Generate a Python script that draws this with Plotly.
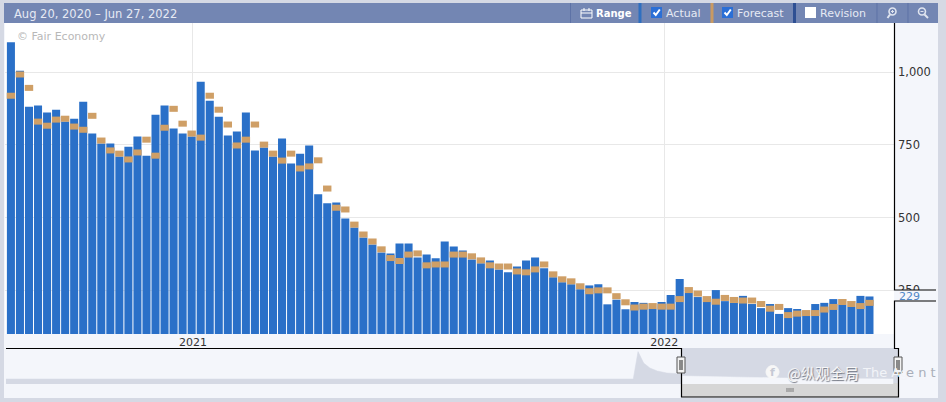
import pandas as pd
import plotly.graph_objects as go

W, H = 946, 402

actual = [1103, 1005, 881, 885, 861, 871, 830, 840, 898, 789, 755, 755, 710, 744, 779, 713,
          854, 885, 806, 789, 779, 967, 902, 847, 782, 796, 861, 731, 741, 710, 772, 686,
          720, 748, 580, 549, 552, 497, 466, 432, 408, 380, 377, 411, 411, 363, 373, 360,
          418, 401, 387, 356, 343, 353, 322, 312, 332, 353, 363, 326, 295, 278, 271, 254,
          267, 271, 202, 218, 185, 210, 207, 186, 210, 234, 289, 241, 227, 210, 251, 213,
          207, 231, 203, 189, 203, 169, 189, 186, 162, 203, 207, 220, 200, 193, 231, 229]
forecast = [919, 992, 946, 830, 816, 837, 840, 813, 802, 850, 765, 731, 720, 700, 724, 768,
            713, 809, 874, 823, 789, 775, 919, 871, 820, 748, 768, 820, 751, 720, 696, 720,
            669, 676, 697, 600, 534, 528, 476, 442, 418, 391, 361, 351, 373, 377, 336, 339,
            339, 373, 373, 367, 353, 336, 332, 332, 315, 312, 322, 339, 305, 288, 281, 264,
            247, 250, 250, 230, 209, 191, 194, 196, 194, 194, 220, 251, 239, 220, 211, 224,
            217, 215, 215, 203, 187, 193, 165, 170, 172, 172, 184, 193, 210, 203, 196, 207]
dates = pd.date_range("2020-08-13", periods=len(actual), freq="7D")

x_range = ["2020-08-08 10:00", "2022-06-28"]
y_range = [100, 1169]
y_ticks = [250, 500, 750, 1000]
x_ticks = ["2021-01-01", "2022-01-01"]
x_labels = ["2021", "2022"]
latest_label = 229
range_text = "Aug 20, 2020 – Jun 27, 2022"

nav_range = ["2014-04-15", "2022-07-11"]
nav_y_range = [-1040, 7888]
nav_hist_dates = ["2014-04-15", "2017-01-01", "2020-01-30", "2020-02-15", "2020-03-05", "2020-03-26",
                  "2020-04-20", "2020-05-22", "2020-07-13"]
nav_hist_vals = [200, 200, 200, 7000, 4168, 2928, 2184, 1688, 1440]
nav_sel_dates = ["2020-07-13", "2020-11-17", "2021-06-10", "2021-11-25", "2022-06-25"]
nav_sel_vals = [944, 700, 450, 300, 200]

FRAME = "#d5d9e4"
INNER = "#f4f6fb"
HEAD = "#7386b3"
BAR = "#2a70c8"
FC = "#cf9f66"
FONT = "DejaVu Sans"


def px(x):
    return x / W


def py(y):
    return 1 - y / H


shapes = []


def rect(x0, y0, x1, y1, fill, layer="above", line=None, lw=0):
    shapes.append(dict(type="rect", xref="paper", yref="paper", x0=px(x0), x1=px(x1), y0=py(y0), y1=py(y1),
                       fillcolor=fill, layer=layer, line=dict(color=line or fill, width=lw)))


def poly(points, color="#000000", width=1.2, close=False, fill=None):
    d = "M" + " L".join(f"{px(a):.5f},{py(b):.5f}" for a, b in points) + (" Z" if close else "")
    shapes.append(dict(type="path", xref="paper", yref="paper", path=d, layer="above",
                       line=dict(color=color, width=width), fillcolor=fill))


def circle(x0, y0, x1, y1, color, width=1.5, fill=None):
    shapes.append(dict(type="circle", xref="paper", yref="paper", x0=px(x0), x1=px(x1), y0=py(y0), y1=py(y1),
                       layer="above", line=dict(color=color, width=width), fillcolor=fill))


notes = []


def note(x, y, text, color="#333333", size=11, anchor="left", family=FONT, shadow=None):
    f = dict(family=family, size=size, color=color)
    if shadow:
        f["shadow"] = shadow
    notes.append(dict(xref="paper", yref="paper", x=px(x), y=py(y), text=text, showarrow=False,
                      xanchor=anchor, yanchor="middle", borderpad=0, font=f))


# backgrounds beneath the traces
rect(5, 23, 894, 334, "#ffffff", layer="below")
rect(682, 348, 898, 383, FRAME, layer="below")
rect(682, 383, 898, 397, "#d6d6d6", layer="below")

# page frame
rect(0, 0, W, 3, FRAME)
rect(0, 0, 4, H, FRAME)
rect(938, 0, W, H, FRAME)
rect(0, 398, W, H, FRAME)
rect(4, 3, 938, 23, HEAD)

# toolbar separators
for xs, col, wd in [(570.5, "#5d72a6", 1), (640, "#2f6fc0", 3), (712, "#c99a63", 3), (794.5, "#2e4f93", 3),
                    (877, "#5d72a6", 1), (908, "#5d72a6", 1)]:
    poly([(xs, 3), (xs, 23)], col, wd)

# calendar icon
poly([(581, 10), (592, 10), (592, 18), (581, 18)], "#ffffff", 1, close=True)
poly([(581, 13), (592, 13)], "#ffffff", 1)
poly([(584, 8), (584, 11)], "#ffffff", 1)
poly([(589, 8), (589, 11)], "#ffffff", 1)

# check boxes
rect(651, 7, 662, 18, "#2b6fd6")
rect(722, 7, 733, 18, "#2b6fd6")
rect(805, 7, 816, 18, "#ffffff")
for cx in (651, 722):
    poly([(cx + 2.5, 12.5), (cx + 4.8, 15), (cx + 8.8, 9.5)], "#ffffff", 2)

# magnifier icons
circle(889, 8, 896, 15, "#dfe4ef", 1.6)
poly([(890, 14.5), (887.5, 18)], "#dfe4ef", 2)
poly([(891, 11.5), (894, 11.5)], "#dfe4ef", 1)
poly([(892.5, 10), (892.5, 13)], "#dfe4ef", 1)
circle(918.5, 8, 925.5, 15, "#dfe4ef", 1.6)
poly([(924.5, 14.5), (928, 18)], "#dfe4ef", 2)
poly([(920.5, 11.5), (923.5, 11.5)], "#dfe4ef", 1)

# latest value box and selection outline
rect(894.5, 290, 936, 301, INNER)
poly([(894.5, 23), (894.5, 290), (936, 290)])
poly([(936, 301), (894.5, 301), (894.5, 348.5), (898.5, 348.5), (898.5, 397), (681.5, 397), (681.5, 348.5), (6, 348.5)])

# navigator handles
for hx in (677, 894):
    shapes.append(dict(type="rect", xref="paper", yref="paper", x0=px(hx), x1=px(hx + 8), y0=py(357), y1=py(373),
                       layer="above", fillcolor="#f2f2f2", line=dict(color="#555555", width=1)))
    poly([(hx + 3, 360), (hx + 3, 370)], "#222222", 1)
    poly([(hx + 5, 360), (hx + 5, 370)], "#222222", 1)
for gx in (787, 789, 791, 793):
    poly([(gx, 388), (gx, 392)], "#666666", 0.8)

note(13, 13.5, range_text, "#e6eaf4", 11.5)
note(595, 13.5, "<b>Range</b>", "#ffffff", 10)
note(665, 13.5, "Actual", "#e6eaf4", 11)
note(736, 13.5, "Forecast", "#e6eaf4", 11)
note(819, 13.5, "Revision", "#e6eaf4", 11)
note(16, 36, "© Fair Economy", "#b8b8b8", 11)

# watermark
circle(766, 365.5, 779, 378.5, "#f7f7f7", 1, fill="#f7f7f7")
note(772.5, 372.5, "<b>f</b>", "#c5c9d4", 11, anchor="center")
note(786, 372, "@纵观全局", "#f7f7f7", 14.5, family="Noto Sans CJK SC", shadow="1px 1px 1px #6f7480")
note(861, 372, "The Ag", "#f2f4f8", 13)
note(905, 372, "e n t", "#a9aeb9", 13)

notes.append(dict(xref="paper", yref="y", x=px(898), y=latest_label, text=str(latest_label), showarrow=False,
                  xanchor="left", yanchor="middle", borderpad=0,
                  font=dict(family=FONT, size=11, color="#4f86c6")))

fig = go.Figure()
fig.add_trace(go.Bar(x=dates, y=actual, name="Actual", marker=dict(color=BAR, line_width=0), xaxis="x", yaxis="y",
                     hoverinfo="x+y"))
fig.add_trace(go.Scatter(x=dates, y=forecast, name="Forecast", mode="markers", xaxis="x", yaxis="y",
                         marker=dict(symbol="line-ew", size=6, color=FC, line=dict(color=FC, width=6))))

# navigator
fig.add_trace(go.Scatter(x=[nav_hist_dates[0], nav_hist_dates[-1]], y=[nav_y_range[0]] * 2, mode="lines",
                         line=dict(width=0), xaxis="x2", yaxis="y2", hoverinfo="skip"))
fig.add_trace(go.Scatter(x=nav_hist_dates, y=nav_hist_vals, mode="lines", fill="tonexty", fillcolor=FRAME,
                         line=dict(width=0.5, color=FRAME), xaxis="x2", yaxis="y2", hoverinfo="skip"))
fig.add_trace(go.Scatter(x=[nav_sel_dates[0], nav_sel_dates[-1]], y=[nav_y_range[0]] * 2, mode="lines",
                         line=dict(width=0), xaxis="x2", yaxis="y2", hoverinfo="skip"))
fig.add_trace(go.Scatter(x=nav_sel_dates, y=nav_sel_vals, mode="lines", fill="tonexty", fillcolor=INNER,
                         line=dict(width=0.5, color=INNER), xaxis="x2", yaxis="y2", hoverinfo="skip"))

fig.update_layout(
    width=W, height=H, margin=dict(l=0, r=0, t=0, b=0), autosize=False,
    paper_bgcolor=INNER, plot_bgcolor="rgba(0,0,0,0)", showlegend=False, bargap=0.11,
    font=dict(family=FONT, size=11, color="#333333"),
    shapes=shapes, annotations=notes,
    xaxis=dict(domain=[px(5), px(894)], range=x_range, type="date", anchor="y", tickvals=x_ticks, ticktext=x_labels,
               showgrid=True, gridcolor="#e8e8e8", gridwidth=1, zeroline=False, showline=False, ticks="",
               tickfont=dict(family=FONT, size=11, color="#333333")),
    yaxis=dict(domain=[py(334), py(23)], range=y_range, side="right", anchor="x", tickvals=y_ticks,
               tickformat=",", showgrid=True, gridcolor="#e8e8e8", gridwidth=1, zeroline=False, showline=False,
               ticks="", ticklabelstandoff=3, tickfont=dict(family=FONT, size=11.5, color="#333333")),
    xaxis2=dict(domain=[px(6), px(898)], range=nav_range, type="date", anchor="y2", visible=False),
    yaxis2=dict(domain=[py(384), py(348)], range=nav_y_range, anchor="x2", visible=False),
)

fig.write_html("out.html", config=dict(displayModeBar=False),
               post_script="document.body.style.margin='0';document.body.style.overflow='hidden';")
